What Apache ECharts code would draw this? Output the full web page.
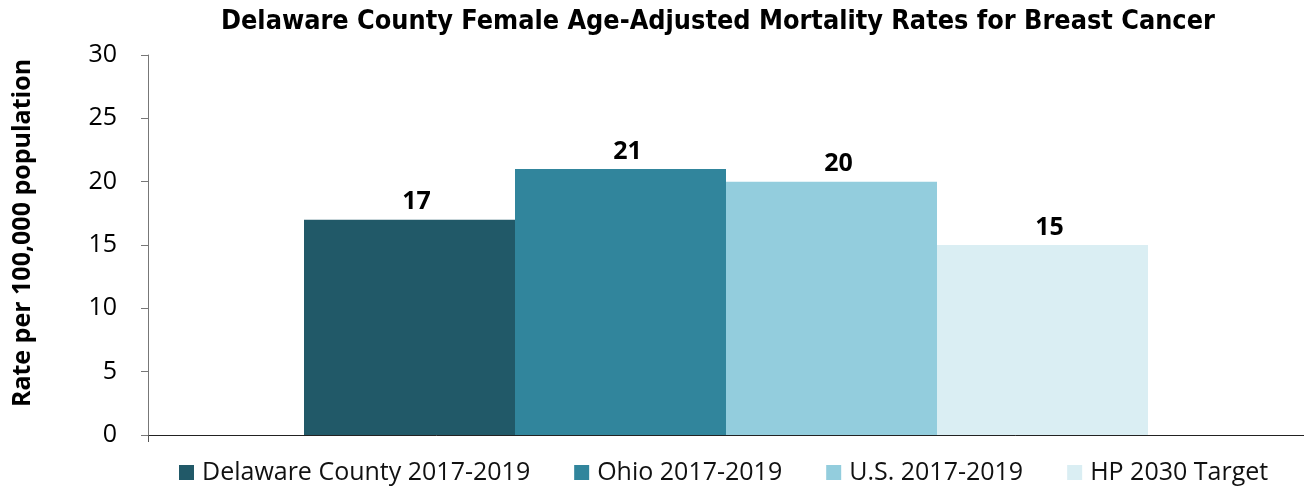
<!DOCTYPE html>
<html>
<head>
<meta charset="utf-8">
<script src="https://cdn.jsdelivr.net/npm/echarts@6/dist/echarts.min.js"></script>
<style>
  html, body { margin: 0; padding: 0; background: #fff; }
  #chart { width: 1304px; height: 489px; }
</style>
</head>
<body>
<div id="chart"></div>
<script>
// Female age-adjusted breast cancer mortality, rate per 100,000 population
const categories = ['Breast Cancer'];
const seriesNames = ['Delaware County 2017-2019', 'Ohio 2017-2019', 'U.S. 2017-2019', 'HP 2030 Target'];
const seriesValues = [17, 21, 20, 15];
const seriesColors = ['#215968', '#31859C', '#93CDDD', '#DAEEF3'];
const yTicks = [0, 5, 10, 15, 20, 25, 30];

const chart = echarts.init(document.getElementById('chart'), null, { renderer: 'canvas' });

const series = seriesNames.map((name, i) => ({
  name: name,
  type: 'bar',
  data: [seriesValues[i]],
  barWidth: 211,
  barGap: '0%',
  itemStyle: { color: seriesColors[i] },
  label: {
    show: true,
    position: 'top',
    distance: 5,
    offset: [7, 0],
    color: '#000',
    fontFamily: 'Open Sans',
    fontWeight: 'bold',
    fontSize: 25
  }
}));

chart.setOption({
  animation: false,
  title: {
    text: 'Delaware County Female Age-Adjusted Mortality Rates for Breast Cancer',
    left: 216,
    top: 4,
    textStyle: {
      fontFamily: 'DejaVu Sans Condensed, DejaVu Sans',
      fontWeight: 'bold',
      fontSize: 26.8,
      color: '#000'
    }
  },
  legend: {
    top: 460,
    left: 179,
    padding: 0,
    itemWidth: 15,
    itemHeight: 15,
    itemGap: 44,
    icon: 'rect',
    textStyle: { fontFamily: 'Open Sans', fontSize: 25, color: '#111', padding: [0, 0, 0, 3] },
    data: seriesNames
  },
  grid: { left: 148, right: 0, top: 55, bottom: 54 },
  xAxis: {
    type: 'category',
    data: categories,
    axisLine: { lineStyle: { color: '#222', width: 1 } },
    axisTick: { show: true, length: 7, lineStyle: { color: '#555' } },
    axisLabel: { show: false }
  },
  yAxis: {
    type: 'value',
    min: yTicks[0],
    max: yTicks[yTicks.length - 1],
    interval: 5,
    name: 'Rate per 100,000 population',
    nameLocation: 'middle',
    nameGap: 113,
    nameTextStyle: {
      fontFamily: 'Open Sans', fontWeight: 'bold', fontSize: 25, color: '#000',
      padding: [0, 0, 0, 24]
    },
    axisLine: { show: true, lineStyle: { color: '#777' } },
    axisTick: { show: true, length: 7, lineStyle: { color: '#777' } },
    splitLine: { show: false },
    axisLabel: { fontFamily: 'Open Sans', fontSize: 25, color: '#000', margin: 31 }
  },
  series: series
});
</script>
</body>
</html>
